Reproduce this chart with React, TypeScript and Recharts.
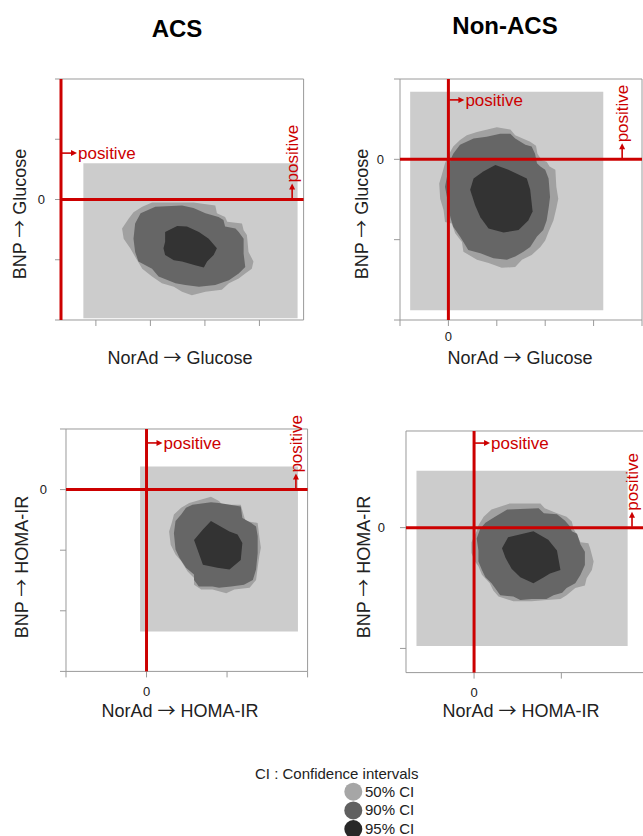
import React from 'react';
import { ComposedChart, XAxis, YAxis, Scatter, ReferenceArea, ReferenceLine, ReferenceDot } from 'recharts';

const FONT = '"Liberation Sans", Arial, Helvetica, sans-serif';
const ARROW_FONT = '"Noto Sans CJK JP", "DejaVu Sans", sans-serif';
const RED = '#cc0000';
const FRAME = '#9a9a9a';
const TEXT = '#222222';

// ---------- data (axis units; 0 = red reference lines) ----------
// ACS : NorAd -> Glucose (x) vs BNP -> Glucose (y)
const acsGlu50 = [[1.49,-0.12],[1.67,-0.05],[2.43,-0.05],[2.83,-0.10],[2.86,-0.23],[3.01,-0.29],[3.05,-0.37],[3.32,-0.40],[3.35,-0.51],[3.41,-0.59],[3.44,-0.87],[3.53,-1.03],[3.50,-1.15],[3.38,-1.23],[3.26,-1.31],[3.08,-1.39],[2.95,-1.50],[2.65,-1.53],[2.40,-1.59],[2.22,-1.53],[2.07,-1.45],[1.85,-1.39],[1.67,-1.28],[1.49,-1.15],[1.36,-0.95],[1.27,-0.81],[1.15,-0.65],[1.12,-0.48],[1.24,-0.32],[1.33,-0.21]];
const acsGlu90 = [[1.33,-0.65],[1.36,-0.40],[1.46,-0.23],[1.73,-0.12],[2.22,-0.10],[2.43,-0.14],[2.65,-0.23],[2.89,-0.29],[2.98,-0.34],[3.01,-0.45],[3.20,-0.48],[3.26,-0.54],[3.35,-0.65],[3.35,-0.90],[3.38,-1.12],[3.26,-1.23],[3.08,-1.34],[2.83,-1.42],[2.53,-1.45],[2.28,-1.42],[2.10,-1.39],[1.79,-1.28],[1.67,-1.15],[1.42,-1.03],[1.36,-0.87]];
const acsGlu95 = [[1.91,-0.54],[2.13,-0.44],[2.31,-0.45],[2.53,-0.54],[2.71,-0.65],[2.86,-0.81],[2.80,-0.92],[2.68,-1.03],[2.62,-1.13],[2.46,-1.09],[2.22,-1.03],[2.07,-1.01],[1.91,-0.92],[1.88,-0.81],[1.91,-0.70]];
const acsGluBox = [[0.41, -1.97], [4.34, 0.60]];

// Non-ACS : NorAd -> Glucose vs BNP -> Glucose
const nonGlu50 = [[0.38,0.30],[0.59,0.34],[1.00,0.40],[1.28,0.37],[1.38,0.30],[1.69,0.22],[1.81,0.17],[1.84,0.07],[1.93,-0.01],[2.03,-0.03],[2.09,-0.09],[2.21,-0.13],[2.23,-0.34],[2.27,-0.49],[2.23,-0.61],[2.17,-0.76],[2.07,-0.90],[2.00,-1.01],[1.90,-1.09],[1.72,-1.19],[1.52,-1.25],[1.38,-1.34],[1.10,-1.35],[0.83,-1.29],[0.59,-1.25],[0.31,-1.15],[0.28,-1.03],[0.14,-0.92],[0.07,-0.80],[-0.07,-0.78],[-0.10,-0.63],[-0.17,-0.49],[-0.19,-0.30],[-0.14,-0.20],[-0.07,-0.05],[0.00,0.05],[0.10,0.16],[0.24,0.24]];
const nonGlu90 = [[0.24,0.18],[0.52,0.26],[0.79,0.28],[1.07,0.32],[1.28,0.32],[1.38,0.26],[1.59,0.18],[1.72,0.16],[1.79,0.07],[1.83,-0.05],[1.90,-0.09],[2.00,-0.13],[2.07,-0.24],[2.10,-0.47],[2.07,-0.61],[2.03,-0.76],[1.96,-0.88],[1.83,-0.96],[1.69,-1.09],[1.55,-1.15],[1.38,-1.21],[1.21,-1.25],[0.93,-1.23],[0.66,-1.17],[0.41,-1.13],[0.31,-1.03],[0.24,-0.96],[0.10,-0.84],[0.04,-0.72],[0.00,-0.59],[-0.03,-0.47],[-0.07,-0.34],[-0.03,-0.22],[0.04,-0.01],[0.10,0.07]];
const nonGlu95 = [[0.97,-0.07],[1.24,-0.13],[1.62,-0.24],[1.69,-0.38],[1.74,-0.65],[1.65,-0.76],[1.45,-0.88],[1.14,-0.91],[0.83,-0.86],[0.66,-0.72],[0.55,-0.57],[0.45,-0.38],[0.52,-0.24],[0.72,-0.15]];
const nonGluBox = [[-0.79, -1.88], [3.20, 0.84]];

// ACS : NorAd -> HOMA-IR vs BNP -> HOMA-IR
const acsHoma50 = [[0.53,-0.22],[0.80,-0.12],[0.90,-0.19],[0.94,-0.25],[1.17,-0.25],[1.21,-0.44],[1.23,-0.52],[1.38,-0.55],[1.40,-0.77],[1.42,-0.96],[1.40,-1.10],[1.38,-1.29],[1.36,-1.49],[1.28,-1.62],[1.09,-1.65],[0.99,-1.71],[0.82,-1.65],[0.68,-1.65],[0.59,-1.57],[0.59,-1.46],[0.51,-1.35],[0.43,-1.18],[0.36,-1.07],[0.30,-0.91],[0.28,-0.69],[0.32,-0.52],[0.34,-0.41],[0.43,-0.30]];
const acsHoma90 = [[0.57,-0.25],[0.80,-0.21],[0.90,-0.22],[1.17,-0.28],[1.19,-0.47],[1.30,-0.55],[1.36,-0.61],[1.38,-0.77],[1.38,-1.05],[1.36,-1.32],[1.32,-1.49],[1.21,-1.57],[1.05,-1.60],[0.90,-1.62],[0.82,-1.60],[0.65,-1.60],[0.59,-1.49],[0.59,-1.40],[0.49,-1.29],[0.41,-1.13],[0.36,-0.99],[0.34,-0.72],[0.36,-0.52],[0.43,-0.41],[0.49,-0.30]];
const acsHoma95 = [[0.80,-0.52],[1.03,-0.69],[1.13,-0.74],[1.19,-0.88],[1.17,-1.16],[1.03,-1.32],[0.88,-1.29],[0.70,-1.24],[0.59,-0.83],[0.70,-0.66]];
const acsHomaBox = [[-0.08, -2.34], [1.88, 0.38]];

// Non-ACS : NorAd -> HOMA-IR vs BNP -> HOMA-IR
const nonHoma50 = [[0.20,0.15],[0.41,0.20],[0.76,0.20],[0.81,0.16],[0.95,0.12],[1.06,0.09],[1.12,0.05],[1.14,-0.01],[1.18,-0.06],[1.22,-0.12],[1.31,-0.13],[1.33,-0.17],[1.37,-0.28],[1.35,-0.35],[1.29,-0.42],[1.27,-0.48],[1.16,-0.50],[1.06,-0.56],[0.99,-0.59],[0.83,-0.60],[0.66,-0.61],[0.45,-0.61],[0.28,-0.57],[0.22,-0.52],[0.18,-0.46],[0.09,-0.39],[0.05,-0.32],[0.01,-0.28],[-0.03,-0.21],[-0.03,-0.12],[0.03,-0.03],[0.05,0.02],[0.11,0.09]];
const nonHoma90 = [[0.13,0.04],[0.24,0.09],[0.38,0.15],[0.74,0.16],[0.80,0.12],[0.95,0.11],[1.04,0.06],[1.10,0.01],[1.12,-0.03],[1.18,-0.05],[1.22,-0.14],[1.27,-0.20],[1.27,-0.31],[1.22,-0.39],[1.16,-0.46],[1.06,-0.50],[1.01,-0.54],[0.91,-0.56],[0.83,-0.59],[0.66,-0.59],[0.53,-0.60],[0.45,-0.57],[0.30,-0.56],[0.24,-0.50],[0.20,-0.46],[0.13,-0.41],[0.09,-0.35],[0.05,-0.28],[0.05,-0.19],[0.03,-0.09],[0.07,-0.01]];
const nonHoma95 = [[0.39,-0.08],[0.68,-0.03],[0.85,-0.10],[0.95,-0.19],[0.99,-0.35],[0.87,-0.38],[0.80,-0.41],[0.68,-0.46],[0.53,-0.41],[0.43,-0.34],[0.36,-0.25],[0.32,-0.17]];
const nonHomaBox = [[-0.66, -0.98], [1.76, 0.47]];

// axis domains and ticks
const acsGluX = [0, 4.45];   const acsGluY = [-2, 2];
const acsGluXTicks = [0.64, 1.64, 2.64, 3.64]; const acsGluYTicks = [-2, -1, 0, 1, 2];
const nonGluX = [-1, 4];     const nonGluY = [-2, 1];
const nonGluXTicks = [-1, 0, 1, 2, 3, 4];       const nonGluYTicks = [-2, -1, 0, 1];
const acsHomaX = [-1, 2];    const acsHomaY = [-3, 1];
const acsHomaXTicks = [-1, 0, 1, 2];            const acsHomaYTicks = [-3, -2, -1, 0, 1];
const nonHomaX = [-0.78, 2]; const nonHomaY = [-1.2, 0.8];
const nonHomaXTicks = [0, 1, 2];                const nonHomaYTicks = [-1, 0];

// texts  (each title = [cause, effect], joined by an arrow)
const groupTitles = ['ACS', 'Non-ACS'];
const xTitles = [['NorAd', 'Glucose'], ['NorAd', 'Glucose'], ['NorAd', 'HOMA-IR'], ['NorAd', 'HOMA-IR']];
const yTitles = [['BNP', 'Glucose'], ['BNP', 'Glucose'], ['BNP', 'HOMA-IR'], ['BNP', 'HOMA-IR']];
const ARROW = '\u2192';
const positiveText = 'positive';
const legendTitle = 'CI : Confidence intervals';
const ciLabels = ['50% CI', '90% CI', '95% CI'];

// colours
const contourFills = ['#a1a1a1', '#666666', '#333333'];
const legendFills = ['#a6a6a6', '#606060', '#282828'];
const boxFill = '#cccccc';

const toPts = (a: number[][]) => a.map(([x, y]) => ({ x, y }));

// ---------- panel layout ----------
const panels = [
  { frame: [60.7, 79, 242.6, 241], xDom: acsGluX, yDom: acsGluY, xTicks: acsGluXTicks, yTicks: acsGluYTicks,
    box: acsGluBox, contours: [acsGlu50, acsGlu90, acsGlu95], posY: 0.77, posX: 4.24, lMargin: 10, bMargin: 6,
    xT: [180, 364], yT: [26, 214] },
  { frame: [400, 79, 242, 241], xDom: nonGluX, yDom: nonGluY, xTicks: nonGluXTicks, yTicks: nonGluYTicks,
    box: nonGluBox, contours: [nonGlu50, nonGlu90, nonGlu95], posY: 0.74, posX: 3.59, lMargin: 10, bMargin: 6,
    xT: [520, 363.5], yT: [368, 214] },
  { frame: [65.7, 429.3, 241.6, 242.4], xDom: acsHomaX, yDom: acsHomaY, xTicks: acsHomaXTicks, yTicks: acsHomaYTicks,
    box: acsHomaBox, contours: [acsHoma50, acsHoma90, acsHoma95], posY: 0.77, posX: 1.855, lMargin: 13, bMargin: 9,
    xT: [180, 716.5], yT: [28, 567] },
  { frame: [406, 430.7, 242.6, 241.6], xDom: nonHomaX, yDom: nonHomaY, xTicks: nonHomaXTicks, yTicks: nonHomaYTicks,
    box: nonHomaBox, contours: [nonHoma50, nonHoma90, nonHoma95], posY: 0.70, posX: 1.81, lMargin: 15, bMargin: 9,
    xT: [521, 716.5], yT: [370, 567] },
];

const zeroOnly = (v: number) => (Math.abs(v) < 1e-9 ? '0' : '');
const blank = () => '';
const noShape = () => <g />;

const polygonLine = (color: string) => (props: any) => {
  const pts = (props && props.points) || [];
  if (!pts.length) return <g />;
  const d = pts.map((p: any, i: number) => `${i ? 'L' : 'M'}${p.x},${p.y}`).join('') + 'Z';
  return <path d={d} fill={color} stroke="none" />;
};

const ArrowRight = (p: any) => {
  const { cx, cy } = p;
  if (cx == null || cy == null) return <g />;
  return (
    <g>
      <line x1={cx + 1} y1={cy} x2={cx + 12} y2={cy} stroke={RED} strokeWidth={1.6} />
      <polygon points={`${cx + 10},${cy - 3} ${cx + 16},${cy} ${cx + 10},${cy + 3}`} fill={RED} />
      <text x={cx + 17} y={cy + 6} fill={RED} fontSize={17} fontFamily={FONT}>{positiveText}</text>
    </g>
  );
};

const ArrowUp = (p: any) => {
  const { cx, cy } = p;
  if (cx == null || cy == null) return <g />;
  return (
    <g>
      <line x1={cx} y1={cy - 1} x2={cx} y2={cy - 12} stroke={RED} strokeWidth={1.6} />
      <polygon points={`${cx - 3},${cy - 10} ${cx},${cy - 16} ${cx + 3},${cy - 10}`} fill={RED} />
      <text transform={`translate(${cx + 6},${cy - 17}) rotate(-90)`} x={0} y={0} fill={RED} fontSize={17} fontFamily={FONT}>{positiveText}</text>
    </g>
  );
};

const axisCommon = {
  type: 'number' as const,
  interval: 0 as const,
  tickSize: 6,
  tickLine: { stroke: FRAME },
  axisLine: { stroke: FRAME },
  tick: { fill: TEXT, fontSize: 13, fontFamily: FONT },
  allowDecimals: true,
};

function Panel({ cfg }: { cfg: any }) {
  const [fl, ft, fw, fh] = cfg.frame;
  const wL = 60, wR = 20, hT = 40, hB = 60;
  const W = wL + fw + wR;
  const H = hT + fh + hB;
  return (
    <div style={{ position: 'absolute', left: fl - wL, top: ft - hT, width: W, height: H }}>
      <ComposedChart width={W} height={H} margin={{ top: 0, right: 0, bottom: 0, left: 0 }}>
        <XAxis {...axisCommon} xAxisId="b" orientation="bottom" dataKey="x" domain={cfg.xDom} ticks={cfg.xTicks}
          height={hB} tickMargin={cfg.bMargin} tickFormatter={zeroOnly} />
        <XAxis {...axisCommon} xAxisId="t" orientation="top" dataKey="x" domain={cfg.xDom} ticks={cfg.xTicks}
          height={hT} tickFormatter={blank} />
        <YAxis {...axisCommon} yAxisId="l" orientation="left" dataKey="y" domain={cfg.yDom} ticks={cfg.yTicks}
          width={wL} tickMargin={cfg.lMargin} tickFormatter={zeroOnly} />
        <YAxis {...axisCommon} yAxisId="r" orientation="right" dataKey="y" domain={cfg.yDom} ticks={cfg.yTicks}
          width={wR} tickFormatter={blank} />
        <ReferenceArea xAxisId="b" yAxisId="l" x1={cfg.box[0][0]} x2={cfg.box[1][0]} y1={cfg.box[0][1]} y2={cfg.box[1][1]}
          fill={boxFill} fillOpacity={1} stroke="none" ifOverflow="visible" zIndex={100} />
        {cfg.contours.map((c: number[][], i: number) => (
          <Scatter key={i} xAxisId="b" yAxisId="l" data={toPts(c)} fill={contourFills[i]}
            line={polygonLine(contourFills[i])} shape={noShape} isAnimationActive={false} />
        ))}
        <ReferenceLine xAxisId="b" yAxisId="l" x={0} stroke={RED} strokeWidth={3} ifOverflow="visible" zIndex={700} />
        <ReferenceLine xAxisId="b" yAxisId="l" y={0} stroke={RED} strokeWidth={3} ifOverflow="visible" zIndex={700} />
        <ReferenceDot xAxisId="b" yAxisId="l" x={0} y={cfg.posY} r={0} shape={ArrowRight} ifOverflow="visible" zIndex={800} />
        <ReferenceDot xAxisId="b" yAxisId="l" x={cfg.posX} y={0} r={0} shape={ArrowUp} ifOverflow="visible" zIndex={800} />
      </ComposedChart>
    </div>
  );
}

const Title = ({ parts }: { parts: string[] }) => (
  <>
    {parts[0] + ' '}
    <tspan fontFamily={ARROW_FONT} fontSize={18}>{ARROW}</tspan>
    {' ' + parts[1]}
  </>
);

export default function App() {
  const legendX = 353.3;
  const legendY0 = 791.7;
  const legendStep = 18.7;
  return (
    <div style={{ position: 'absolute', left: 0, top: 0, width: 643, height: 836, overflow: 'hidden', background: '#ffffff', fontFamily: FONT }}>
      {panels.map((p, i) => <Panel key={i} cfg={p} />)}
      <svg width={643} height={836} style={{ position: 'absolute', left: 0, top: 0, pointerEvents: 'none' }}>
        <text x={177} y={37} textAnchor="middle" fontSize={24} fontWeight="bold" fill="#000" fontFamily={FONT}>{groupTitles[0]}</text>
        <text x={505} y={33.5} textAnchor="middle" fontSize={24} fontWeight="bold" fill="#000" fontFamily={FONT}>{groupTitles[1]}</text>
        {panels.map((p, i) => (
          <g key={i}>
            <text x={p.xT[0]} y={p.xT[1]} textAnchor="middle" fontSize={18} fill={TEXT} fontFamily={FONT}>
              <Title parts={xTitles[i]} />
            </text>
            <text transform={`translate(${p.yT[0]},${p.yT[1]}) rotate(-90)`} x={0} y={0} textAnchor="middle" fontSize={18} fill={TEXT} fontFamily={FONT}>
              <Title parts={yTitles[i]} />
            </text>
          </g>
        ))}
        <text x={255} y={779.3} fontSize={15} fill={TEXT} fontFamily={FONT}>{legendTitle}</text>
        {ciLabels.map((lab, i) => (
          <g key={lab}>
            <circle cx={legendX} cy={legendY0 + i * legendStep} r={9} fill={legendFills[i]} />
            <text x={365} y={legendY0 + i * legendStep + 5} fontSize={15} fill={TEXT} fontFamily={FONT}>{lab}</text>
          </g>
        ))}
      </svg>
    </div>
  );
}
